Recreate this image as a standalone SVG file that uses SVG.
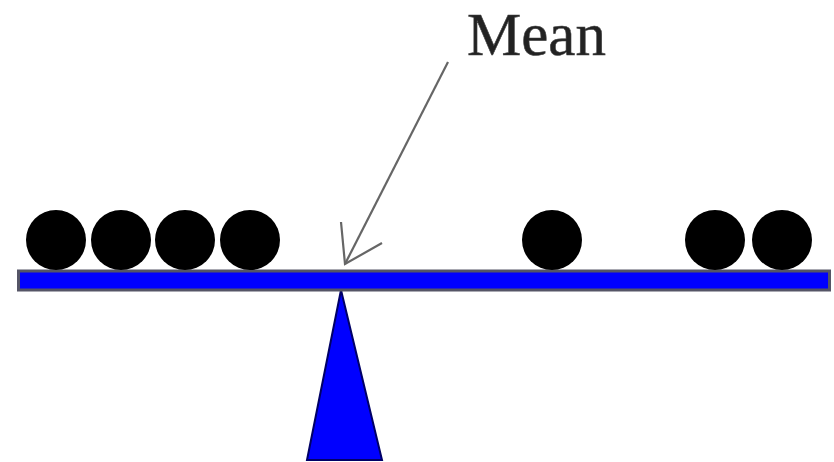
<svg xmlns="http://www.w3.org/2000/svg" width="834" height="462" viewBox="0 0 834 462">
<style>
.ball{fill:#000}
.lbl{font-family:"Liberation Serif",serif;font-size:61px;fill:#222;stroke:#444;stroke-width:0.6}
.conn{stroke:#666;stroke-width:2.2;fill:none}
</style>
<rect width="834" height="462" fill="#fff"/>
<g id="fulcrum"><polygon points="341,290 307,460 382,460" fill="#0000ff" stroke="#000066" stroke-width="2"/></g>
<g id="beam"><rect x="18.5" y="271" width="811" height="19" fill="#0000ff" stroke="#555566" stroke-width="3"/></g>
<g id="balls">
<circle class="ball" cx="56" cy="240" r="30"/>
<circle class="ball" cx="121" cy="240" r="30"/>
<circle class="ball" cx="185" cy="240" r="30"/>
<circle class="ball" cx="250" cy="240" r="30"/>
<circle class="ball" cx="552" cy="240" r="30"/>
<circle class="ball" cx="715" cy="240" r="30"/>
<circle class="ball" cx="782" cy="240" r="30"/>
</g>
<g id="label"><text class="lbl" x="467" y="55">Mean</text></g>
<g id="connectors">
<line class="conn" x1="448" y1="62" x2="345" y2="264"/>
<polyline class="conn" points="341,222 345,264 382,243"/>
</g>
</svg>
